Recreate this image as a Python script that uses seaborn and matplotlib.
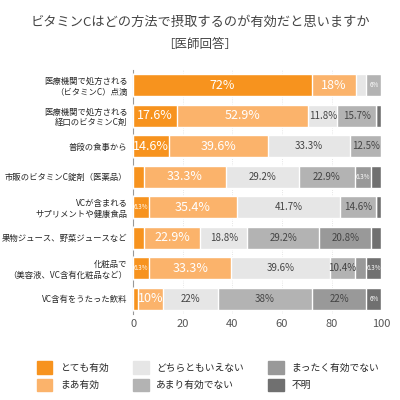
import matplotlib.pyplot as plt
import seaborn as sns
import pandas as pd
import numpy as np

sns.set_style("white")
plt.rcParams['font.family'] = ['Noto Sans CJK JP', 'DejaVu Sans']

items = ["医療機関で処方される\n（ビタミンC）点滴", "医療機関で処方される\n経口のビタミンC剤", "普段の食事から",
         "市販のビタミンC錠剤（医薬品）", "VCが含まれる\nサプリメントや健康食品", "果物ジュース、野菜ジュースなど",
         "化粧品で\n（美容液、VC含有化粧品など）", "VC含有をうたった飲料"]
answers = ["とても有効", "まあ有効", "どちらともいえない", "あまり有効でない", "まったく有効でない", "不明"]
very = [72, 17.6, 14.6, 4.2, 6.3, 4.2, 6.3, 2]
somewhat = [18, 52.9, 39.6, 33.3, 35.4, 22.9, 33.3, 10]
neutral = [4, 11.8, 33.3, 29.2, 41.7, 18.8, 39.6, 22]
not_much = [6, 15.7, 12.5, 22.9, 14.6, 29.2, 10.4, 38]
not_at_all = [0, 0, 0, 6.3, 0, 20.8, 4.2, 22]
unknown = [0, 2, 0, 4.2, 2.1, 4.2, 6.3, 6]
colors = ["#F7931E", "#FBB36B", "#E6E6E6", "#B3B3B3", "#999999", "#707070"]
text_colors = ["white", "white", "#444444", "#444444", "#444444", "white"]

df = pd.DataFrame([very, somewhat, neutral, not_much, not_at_all, unknown], index=answers, columns=items).T

fig = plt.figure(figsize=(4, 4), dpi=100)
ax = fig.add_axes([0.333, 0.215, 0.62, 0.61])
left = np.zeros(len(items))
for i, ans in enumerate(answers):
    vals = df[ans].values
    sns.barplot(x=vals + left, y=items, color=colors[i], ax=ax, width=0.72, orient="h",
                zorder=10 - i, saturation=1)
    for j, v in enumerate(vals):
        if v >= 10:
            fs = 9 if i < 2 else 7
            ax.text(left[j] + v / 2, j, f"{v:g}%", ha="center", va="center", fontsize=fs,
                    color=text_colors[i], zorder=20)
        elif v >= 6:
            ax.text(left[j] + v / 2, j, f"{v:g}%", ha="center", va="center", fontsize=4.5,
                    color="white", zorder=20)
    left += vals

ax.set_xlim(0, 100)
ax.set_xticks([0, 20, 40, 60, 80, 100])
ax.tick_params(axis="x", labelsize=8, colors="#555555", length=0)
ax.tick_params(axis="y", labelsize=6, length=0, pad=4)
ax.set_xlabel("")
ax.set_ylabel("")
ax.xaxis.grid(True, color="#dddddd", linestyle=":", lw=0.6)
ax.set_axisbelow(True)
for sp in ["top", "right", "bottom"]:
    ax.spines[sp].set_visible(False)
ax.spines["left"].set_color("#999999")

handles = [plt.Rectangle((0, 0), 1, 1, color=c) for c in colors]
fig.legend(handles, answers, loc="lower center", ncol=3,
           bbox_to_anchor=(0.52, 0.0), fontsize=7, frameon=False, handlelength=1.6,
           handleheight=1.6, columnspacing=2.5)

fig.text(0.5, 0.935, "ビタミンCはどの方法で摂取するのが有効だと思いますか", ha="center", fontsize=9.5, color="#444444")
fig.text(0.5, 0.88, "［医師回答］", ha="center", fontsize=9, color="#444444")
fig.savefig("out.png", dpi=100)
